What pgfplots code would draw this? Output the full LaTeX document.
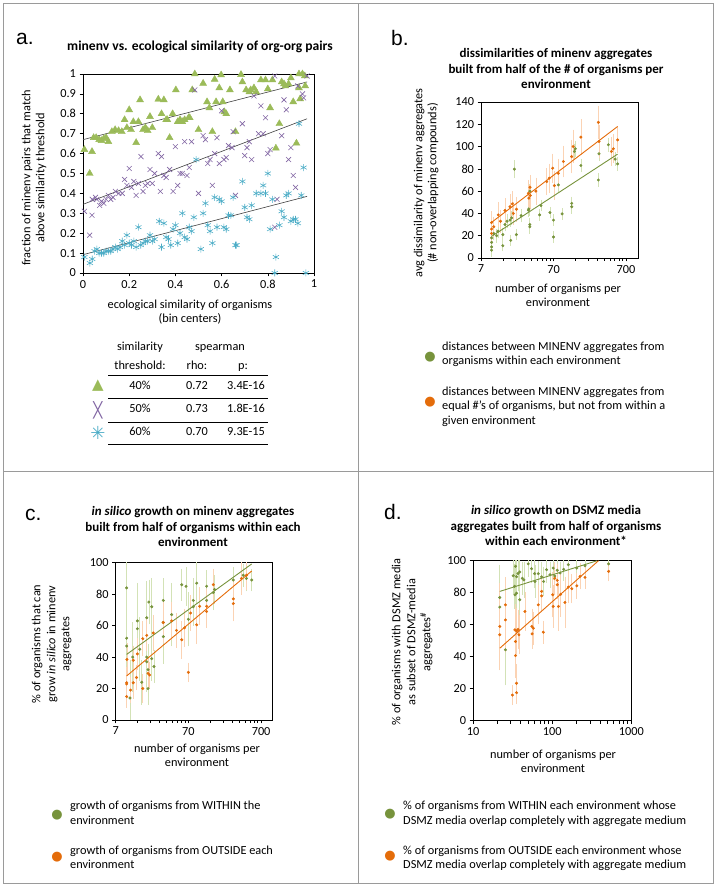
\documentclass[border=0pt]{standalone}
\usepackage{fontspec}
\usepackage{pgfplots}
\pgfplotsset{compat=1.18}
\setmainfont{Carlito}
\newfontfamily\arialf{Liberation Sans}
\newfontfamily\dejavu{DejaVu Sans}
\definecolor{tgreen}{HTML}{9BBB59}
\definecolor{xpurple}{HTML}{8064A2}
\definecolor{scyan}{HTML}{4BACC6}
\definecolor{dgreen}{HTML}{77933C}
\definecolor{dorange}{HTML}{E46C0A}
\definecolor{lgreen}{HTML}{D3E2B6}
\definecolor{lorange}{HTML}{FBD3B4}
\definecolor{framegray}{HTML}{9A9A9A}
\newcommand{\lab}{\fontsize{12.3}{14}\selectfont}
\newcommand{\ttl}{\fontsize{13}{15}\selectfont\bfseries}
\newcommand{\ttla}{\fontsize{13.6}{15}\selectfont\bfseries}
\newcommand{\plet}{\arialf\fontsize{21}{24}\selectfont}
\pgfplotsset{panel/.style={scale only axis, axis line style={black, line width=0.7pt},
  tick align=outside, tick pos=left, major tick length=3.5pt,
  tick style={black, line width=0.6pt},
  tick label style={font=\lab}, /pgf/number format/assume math mode=true,
  clip=false},
  gpts/.style={only marks, mark=*, mark size=1.3pt, color=dgreen,
  error bars/.cd, y dir=both, y explicit,
  error bar style={lgreen, line width=0.7pt},
  error mark options={lgreen, mark size=3.5pt, line width=0.7pt}},
  opts/.style={only marks, mark=*, mark size=1.3pt, color=dorange,
  error bars/.cd, y dir=both, y explicit,
  error bar style={lorange, line width=0.7pt},
  error mark options={lorange, mark size=3.5pt, line width=0.7pt}}}
\begin{document}
\begin{tikzpicture}
\path (0pt,0pt) rectangle (717pt,889pt);
\draw[framegray, line width=0.8pt] (3pt,6pt) rectangle (713pt,886pt);
\draw[framegray, line width=0.8pt] (358pt,6pt) -- (358pt,886pt);
\draw[framegray, line width=0.8pt] (3pt,418pt) -- (713pt,418pt);

% ================= panel a =================
\begin{axis}[panel, at={(83pt,616pt)}, anchor=south west, width=231pt, height=199pt,
  xmin=0, xmax=1, ymin=0, ymax=1,
  xtick={0,0.2,0.4,0.6,0.8,1}, ytick={0,0.1,0.2,0.3,0.4,0.5,0.6,0.7,0.8,0.9,1},
  xticklabel style={/pgf/number format/fixed, /pgf/number format/precision=1},
  yticklabel style={/pgf/number format/fixed, /pgf/number format/precision=1}]
\addplot[only marks, mark=triangle*, mark size=4pt, color=tgreen] table {
x y
0.006 0.62
0.029 0.50
0.039 0.61
0.046 0.68
0.057 0.68
0.07 0.67
0.08 0.665
0.09 0.675
0.10 0.68
0.11 0.66
0.125 0.71
0.139 0.72
0.154 0.715
0.168 0.71
0.18 0.77
0.19 0.73
0.20 0.82
0.208 0.72
0.218 0.76
0.23 0.655
0.24 0.76
0.247 0.87
0.26 0.72
0.27 0.73
0.28 0.715
0.29 0.786
0.30 0.73
0.326 0.873
0.34 0.80
0.35 0.87
0.36 0.77
0.365 0.77
0.375 0.68
0.388 0.80
0.402 0.92
0.41 0.76
0.42 0.77
0.43 0.76
0.44 0.77
0.457 0.78
0.462 0.78
0.473 0.92
0.484 1.00
0.50 0.72
0.52 0.953
0.537 0.86
0.547 0.83
0.56 0.71
0.57 0.973
0.576 0.86
0.59 0.93
0.598 0.995
0.605 0.86
0.612 0.81
0.62 0.80
0.636 0.92
0.66 0.71
0.684 0.997
0.69 0.96
0.706 0.92
0.72 0.91
0.726 0.92
0.74 0.93
0.75 0.91
0.77 0.97
0.79 0.97
0.80 0.925
0.81 0.83
0.82 0.97
0.835 0.627
0.85 0.75
0.86 0.96
0.87 0.95
0.876 0.94
0.89 0.95
0.90 0.98
0.91 0.86
0.924 0.652
0.935 0.93
0.94 0.875
0.935 1.0
0.95 1.0
0.96 0.99
0.962 0.94
};
\addplot[only marks, mark=x, mark size=3.5pt, color=xpurple, mark options={line width=0.6pt}] table {
x y
0.006 0.31
0.029 0.19
0.039 0.29
0.04 0.37
0.054 0.38
0.06 0.37
0.072 0.34
0.08 0.36
0.09 0.35
0.10 0.37
0.11 0.39
0.12 0.37
0.13 0.38
0.14 0.41
0.155 0.40
0.17 0.40
0.18 0.47
0.19 0.44
0.20 0.525
0.21 0.43
0.22 0.46
0.23 0.39
0.24 0.45
0.251 0.585
0.26 0.41
0.27 0.44
0.28 0.45
0.29 0.52
0.30 0.45
0.31 0.50
0.326 0.60
0.335 0.41
0.34 0.585
0.35 0.49
0.36 0.48
0.375 0.52
0.39 0.41
0.40 0.635
0.41 0.44
0.42 0.50
0.43 0.50
0.44 0.66
0.45 0.49
0.46 0.53
0.47 0.66
0.484 0.92
0.50 0.40
0.52 0.69
0.53 0.67
0.54 0.55
0.55 0.57
0.56 0.44
0.57 0.60
0.58 0.68
0.59 0.55
0.60 0.815
0.61 0.57
0.62 0.58
0.63 0.64
0.645 0.63
0.65 0.71
0.66 0.39
0.69 0.75
0.70 0.59
0.71 0.63
0.72 0.66
0.73 0.57
0.74 0.89
0.76 0.70
0.77 0.84
0.78 0.70
0.79 0.78
0.80 0.60
0.81 0.62
0.83 0.99
0.84 0.37
0.83 0.23
0.86 0.69
0.87 0.87
0.88 0.82
0.89 0.57
0.90 0.63
0.91 0.49
0.92 0.43
0.93 0.94
0.95 0.90
0.955 0.88
0.97 0.99
};
\addplot[only marks, mark=asterisk, mark size=3.5pt, color=scyan, mark options={line width=0.6pt}] table {
x y
0.006 0.08
0.03 0.05
0.04 0.07
0.05 0.11
0.06 0.12
0.07 0.10
0.08 0.10
0.09 0.10
0.10 0.11
0.11 0.11
0.12 0.11
0.13 0.12
0.14 0.13
0.15 0.12
0.16 0.13
0.17 0.16
0.18 0.14
0.19 0.19
0.20 0.15
0.21 0.14
0.22 0.16
0.23 0.13
0.24 0.23
0.25 0.14
0.26 0.15
0.27 0.16
0.28 0.16
0.29 0.19
0.30 0.16
0.31 0.17
0.33 0.26
0.34 0.13
0.35 0.25
0.36 0.18
0.37 0.17
0.38 0.14
0.39 0.22
0.40 0.24
0.41 0.15
0.42 0.20
0.43 0.30
0.44 0.18
0.45 0.17
0.46 0.23
0.47 0.21
0.48 0.28
0.49 0.57
0.51 0.12
0.52 0.30
0.53 0.35
0.54 0.24
0.55 0.21
0.56 0.15
0.57 0.38
0.58 0.23
0.59 0.37
0.60 0.36
0.61 0.23
0.62 0.22
0.63 0.29
0.64 0.29
0.65 0.38
0.66 0.14
0.665 0.14
0.69 0.46
0.70 0.33
0.71 0.28
0.72 0.27
0.73 0.34
0.75 0.40
0.77 0.40
0.78 0.44
0.79 0.40
0.80 0.50
0.81 0.22
0.82 0.37
0.83 0.00
0.835 0.08
0.85 0.24
0.86 0.31
0.87 0.28
0.88 0.39
0.89 0.40
0.90 0.26
0.91 0.27
0.92 0.27
0.93 0.25
0.935 0.75
0.945 0.39
0.955 0.53
0.965 0.00
};
\addplot[no marks, black!75, line width=0.6pt] coordinates {(0,0.67) (0.97,0.96)};
\addplot[no marks, black!75, line width=0.6pt] coordinates {(0,0.345) (0.97,0.775)};
\addplot[no marks, black!75, line width=0.6pt] coordinates {(0,0.092) (0.97,0.385)};
\end{axis}

% ================= panel b =================
\begin{axis}[panel, clip=true, at={(481pt,631pt)}, anchor=south west, width=157pt, height=156pt,
  xmode=log, xmin=7, xmax=1025, ymin=0, ymax=140,
  xtick={7,70,700}, xticklabels={7,70,700}, ytick={0,20,40,60,80,100,120,140},
  minor xtick={}]
\addplot[gpts] table[x=x, y=y, y error=e] {
x y e
9.8 7 3
9.8 10 3
9.8 14 3
9.8 18 3
10.5 22 3
11.5 20 3
12 24 3
14 21 3
14 11 2
15 30 3
16 33 3
17.6 34 3
18 15.8 2
18.5 36 3
20.2 79.7 5
21.5 21 2
25 38 3
31.5 43 3
32 44 3
33 30 3
33 28 3
33 60 3
45 38.7 2
47 47 2
62.5 40.8 2
70 34 2
70 18.8 2
81.6 65.6 3
92 39.6 2
125 49 3
125 46 3
136 95.6 4
140 98 4
167 83 3
291 70 3
297 93.5 3
400 101.6 3
496 88.7 3
536 84.5 3
};
\addplot[opts] table[x=x, y=y, y error=e] {
x y e
9.8 31.8 7
9.8 26 7
9.8 22 6
10.5 28 6
12.1 38.7 8
13 33 7
15 42.6 8
17.6 46 8
18.9 48.6 8
19.5 40 7
21.6 43.8 8
31.5 58 9
32 53.7 9
33.2 63.5 8
33.5 56 9
40 60 9
56.4 68.6 9
61 71.6 10
68.3 80.6 10
72 65 10
81.6 76 10
95.7 86.6 11
124.6 91 12
130.8 100 12
167 108.5 13
291 121.7 12
297 104.6 12
441 95.6 10
468 98 10
536 106 9
};
\addplot[no marks, dorange, line width=0.9pt] coordinates {(9.8,32) (536,118)};
\addplot[no marks, dgreen, line width=0.9pt] coordinates {(9.8,19.4) (536,93.2)};
\end{axis}

% ================= panel c =================
\begin{axis}[panel, clip=true, at={(115.7pt,169pt)}, anchor=south west, width=157pt, height=157.3pt,
  xmode=log, xmin=7, xmax=1010, ymin=0, ymax=100,
  xtick={7,70,700}, xticklabels={7,70,700}, ytick={0,20,40,60,80,100},
  minor xtick={}]
\addplot[gpts] table[x=x, y=y, y error=e] {
x y e
9.9 84 15
9.9 52 17
9.9 47 18
11 14 22
12 40 20
13.9 63 22
13.9 58 20
15 45 18
16 24 12
18.7 65 21
18.7 40 20
18.7 37 15
19.5 32 14
19.5 20 8
20 75 12
21.9 72 16
21.9 39 12
23.5 34 8
31.6 76 12
31.6 62 14
31.6 53 15
41.2 67 18
56.6 86 8
65 85 10
70 64 15
81.7 76 12
81.7 72 10
91 87 11
124.6 85 8
124.6 76 10
154 81 9
160 83 7
290 89 6
398 92 5
440 90 6
519 89 5
};
\addplot[opts] table[x=x, y=y, y error=e] {
x y e
9.9 23.7 8
9.9 22.9 6
9.9 14.9 5
10 38.5 8
11.2 19 6
12.2 23.7 8
12.2 38 7
13.9 42 8
13.5 27 6
16.5 51.7 9
16.5 20 7
18.7 53.8 8
19.5 29.6 7
20.5 28.6 6
23 55.3 9
31.6 62 11
41.2 63 10
48 57 9
56.6 51 10
62 58.6 10
70 30.3 4
75 68 9
91 60.5 10
100 72.3 10
124.6 72.3 9
124.6 69 8
154 86 8
290 74 9
290 77 10
375 90 8
440 92 7
};
\addplot[no marks, dgreen, line width=0.9pt] coordinates {(9.9,41.7) (519,99.2)};
\addplot[no marks, dorange, line width=0.9pt] coordinates {(9.9,28) (519,94.7)};
\end{axis}

% ================= panel d =================
\begin{axis}[panel, clip=true, at={(473pt,168.3pt)}, anchor=south west, width=158.3pt, height=160pt,
  xmode=log, xmin=10, xmax=1000, ymin=0, ymax=100,
  xtick={10,100,1000}, xticklabels={10,100,1000}, ytick={0,20,40,60,80,100},
  minor xtick={}]
\addplot[gpts] table[x=x, y=y, y error=e] {
x y e
21.8 77 18
21.8 71 16
25.7 44.3 20
32.2 90.6 10
34.5 96.5 8
33.5 84 12
35.5 90 10
37 92 9
39 93 8
35.5 79.7 12
34 78.7 10
39 75.6 12
42 89 8
44 88 9
49.9 98 6
55 95 7
60 91.9 7
60.6 87 8
66.8 91.9 6
73.7 89.9 7
78 87 7
85 94.4 6
94 91.2 6
103 95.4 5
108 90.5 6
116 94 5
126 92.3 5
140 94.6 5
160 97.5 4
205 95.4 4
260 96.8 4
517 98 3
};
\addplot[opts] table[x=x, y=y, y error=e] {
x y e
21.8 58.9 25
21.8 53.7 20
25.7 72.4 15
25.7 63 18
31.5 16 4
33.8 56.8 14
35.5 56 12
37 57 10
34.5 49.5 14
34.5 40.7 12
35.5 23.4 10
35.5 17.5 5
38 53.7 10
45.3 68.3 10
55.4 58.9 9
57.8 57.8 8
55.8 54.3 7
66.8 72.4 10
73.7 80.8 8
73.7 78 8
77.3 55.3 5
101.5 78.7 12
103 71.4 11
108 89 8
116 87.7 8
116 85 7
120 71.4 13
128 79 12
145 73.9 14
160 83.5 8
177 82.5 7
205 84.3 6
225 90.2 6
260 89.6 5
517 93.3 4
};
\addplot[no marks, dgreen, line width=0.9pt] coordinates {(21.8,80.8) (370,100)};
\addplot[no marks, dorange, line width=0.9pt] coordinates {(21.8,45.3) (385,100)};
\end{axis}

% ================= texts =================
\begin{scope}[every node/.style={inner sep=0pt}]
% panel letters
\node[anchor=base west, font=\plet] at (16pt,844pt) {a.};
\node[anchor=base west, font=\plet] at (391pt,843pt) {b.};
\node[anchor=base west, font=\plet] at (25pt,368pt) {c.};
\node[anchor=base west, font=\plet] at (384pt,369pt) {d.};
% titles
\node[anchor=mid, font=\ttla] at (200pt,841pt) {minenv vs. ecological similarity of org-org pairs};
\node[anchor=mid, font=\ttl] at (556pt,834pt) {dissimilarities of minenv aggregates};
\node[anchor=mid, font=\ttl] at (556pt,818pt) {built from half of the \# of organisms per};
\node[anchor=mid, font=\ttl] at (556pt,803pt) {environment};
\node[anchor=mid, font=\ttl] at (193pt,376pt) {\textit{in silico} growth on minenv aggregates};
\node[anchor=mid, font=\ttl] at (193pt,360pt) {built from half of organisms within each};
\node[anchor=mid, font=\ttl] at (193pt,345pt) {environment};
\node[anchor=mid, font=\ttl] at (556pt,377pt) {\textit{in silico} growth on DSMZ media};
\node[anchor=mid, font=\ttl] at (556pt,361pt) {aggregates built from half of organisms};
\node[anchor=mid, font=\ttl] at (556pt,346pt) {within each environment*};
% y labels
\node[anchor=mid, rotate=90, font=\lab] at (28pt,711pt) {fraction of minenv pairs that match};
\node[anchor=mid, rotate=90, font=\lab] at (42pt,711pt) {above similarity threshold};
\node[anchor=mid, rotate=90, font=\lab] at (420pt,706pt) {avg dissimilarity of minenv aggregates};
\node[anchor=mid, rotate=90, font=\lab] at (434pt,706pt) {(\# non-overlapping compounds)};
\node[anchor=mid, rotate=90, font=\lab] at (38pt,245pt) {\% of organisms that can};
\node[anchor=mid, rotate=90, font=\lab] at (53pt,245pt) {grow \textit{in silico} in minenv};
\node[anchor=mid, rotate=90, font=\lab] at (67pt,245pt) {aggregates};
\node[anchor=mid, rotate=90, font=\lab] at (398pt,247pt) {\% of organisms with DSMZ media};
\node[anchor=mid, rotate=90, font=\lab] at (413pt,247pt) {as subset of DSMZ-media};
\node[anchor=mid, rotate=90, font=\lab] at (428pt,247pt) {aggregates$^{\#}$};
% x labels
\node[anchor=mid, font=\lab] at (190pt,583pt) {ecological similarity of organisms};
\node[anchor=mid, font=\lab] at (190pt,569pt) {(bin centers)};
\node[anchor=mid, font=\lab] at (558pt,599pt) {number of organisms per};
\node[anchor=mid, font=\lab] at (558pt,585pt) {environment};
\node[anchor=mid, font=\lab] at (197pt,139pt) {number of organisms per};
\node[anchor=mid, font=\lab] at (197pt,125pt) {environment};
\node[anchor=mid, font=\lab] at (553pt,133pt) {number of organisms per};
\node[anchor=mid, font=\lab] at (553pt,119pt) {environment};
% table of panel a
\node[anchor=mid, font=\lab] at (140pt,541pt) {similarity};
\node[anchor=mid, font=\lab] at (140pt,522pt) {threshold:};
\node[anchor=mid, font=\lab] at (220pt,541pt) {spearman};
\node[anchor=mid, font=\lab] at (197pt,522pt) {rho:};
\node[anchor=mid, font=\lab] at (243pt,522pt) {p:};
\draw[black, line width=0.7pt] (108pt,514pt) -- (268pt,514pt);
\draw[black, line width=0.7pt] (108pt,491pt) -- (268pt,491pt);
\draw[black, line width=0.7pt] (108pt,467pt) -- (268pt,467pt);
\draw[black, line width=0.7pt] (108pt,445pt) -- (268pt,445pt);
\node[anchor=center, text=tgreen, font=\dejavu\fontsize{15}{15}\selectfont] at (98pt,503pt) {▲};
\node[anchor=center, text=xpurple, font=\dejavu\fontsize{15}{15}\selectfont] at (98pt,479pt) {╳};
\node[anchor=center, text=scyan, font=\dejavu\fontsize{18}{18}\selectfont] at (98pt,456pt) {✳};
\node[anchor=mid, font=\lab] at (140pt,502pt) {40\%};
\node[anchor=mid, font=\lab] at (197pt,502pt) {0.72};
\node[anchor=mid, font=\lab] at (246pt,502pt) {3.4E-16};
\node[anchor=mid, font=\lab] at (140pt,479pt) {50\%};
\node[anchor=mid, font=\lab] at (197pt,479pt) {0.73};
\node[anchor=mid, font=\lab] at (246pt,479pt) {1.8E-16};
\node[anchor=mid, font=\lab] at (140pt,456pt) {60\%};
\node[anchor=mid, font=\lab] at (197pt,456pt) {0.70};
\node[anchor=mid, font=\lab] at (246pt,456pt) {9.3E-15};
% legends
\node[anchor=center, text=dgreen, font=\dejavu\fontsize{13}{13}\selectfont] at (430pt,532pt) {●};
\node[anchor=mid west, font=\lab] at (442pt,541pt) {distances between MINENV aggregates from};
\node[anchor=mid west, font=\lab] at (442pt,527pt) {organisms within each environment};
\node[anchor=center, text=dorange, font=\dejavu\fontsize{13}{13}\selectfont] at (430pt,487pt) {●};
\node[anchor=mid west, font=\lab] at (442pt,496pt) {distances between MINENV aggregates from};
\node[anchor=mid west, font=\lab] at (442pt,482pt) {equal \#’s of organisms, but not from within a};
\node[anchor=mid west, font=\lab] at (442pt,467pt) {given environment};
\node[anchor=center, text=dgreen, font=\dejavu\fontsize{13}{13}\selectfont] at (57pt,74pt) {●};
\node[anchor=mid west, font=\lab] at (70pt,82pt) {growth of organisms from WITHIN the};
\node[anchor=mid west, font=\lab] at (70pt,67pt) {environment};
\node[anchor=center, text=dorange, font=\dejavu\fontsize{13}{13}\selectfont] at (57pt,32pt) {●};
\node[anchor=mid west, font=\lab] at (70pt,37pt) {growth of organisms from OUTSIDE each};
\node[anchor=mid west, font=\lab] at (70pt,23pt) {environment};
\node[anchor=center, text=dgreen, font=\dejavu\fontsize{13}{13}\selectfont] at (390pt,75pt) {●};
\node[anchor=mid west, font=\lab] at (403pt,82pt) {\% of organisms from WITHIN each environment whose};
\node[anchor=mid west, font=\lab] at (403pt,67pt) {DSMZ media overlap completely with aggregate medium};
\node[anchor=center, text=dorange, font=\dejavu\fontsize{13}{13}\selectfont] at (390pt,33pt) {●};
\node[anchor=mid west, font=\lab] at (403pt,37pt) {\% of organisms from OUTSIDE each environment whose};
\node[anchor=mid west, font=\lab] at (403pt,23pt) {DSMZ media overlap completely with aggregate medium};
\end{scope}
\end{tikzpicture}
\end{document}
